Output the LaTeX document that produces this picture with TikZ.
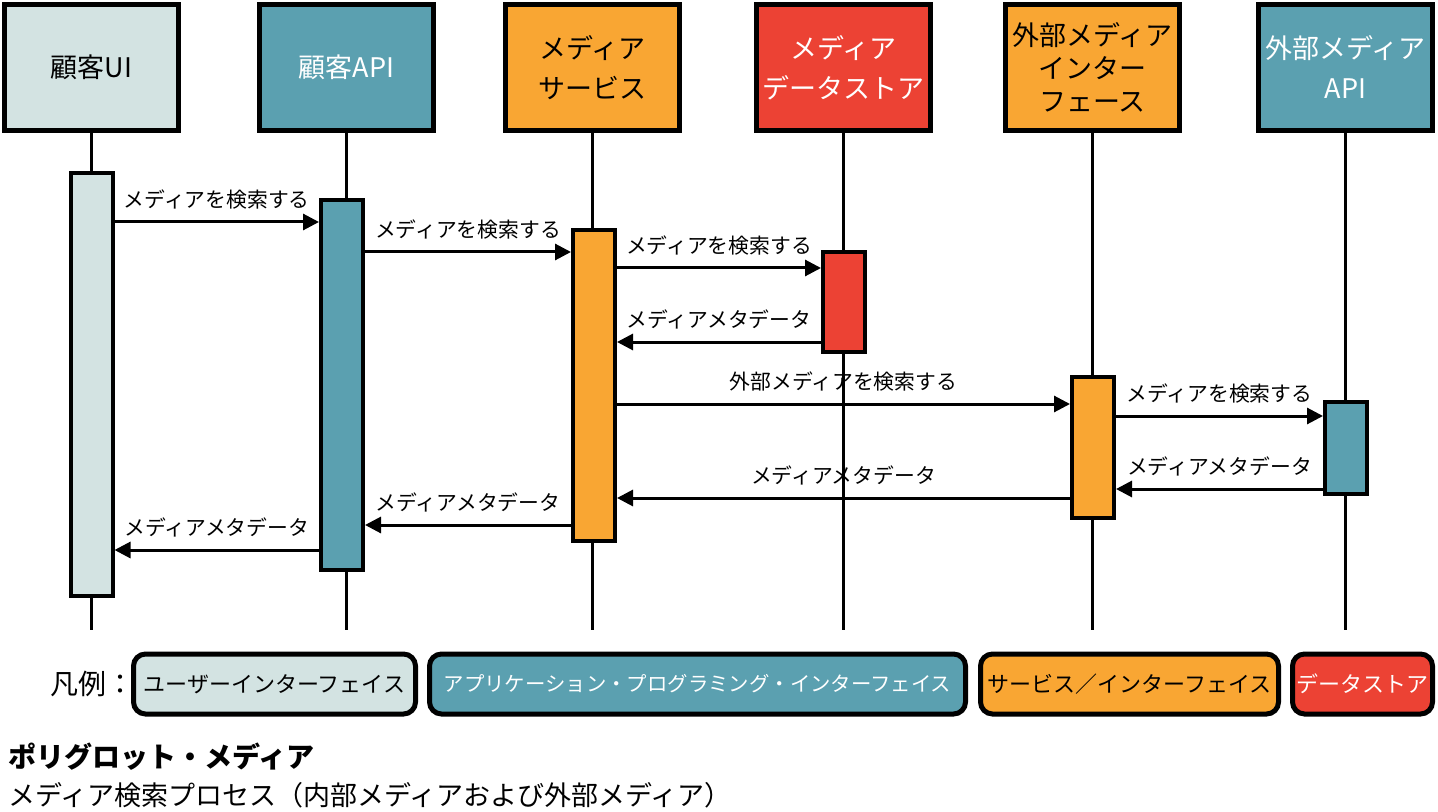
\documentclass[tikz,border=0pt]{standalone}
\usepackage{fontspec}
\setmainfont{Noto Sans CJK JP}
\usetikzlibrary{arrows.meta}
\definecolor{uigray}{RGB}{211,227,226}
\definecolor{apiteal}{RGB}{91,160,176}
\definecolor{svcorange}{RGB}{249,166,51}
\definecolor{storered}{RGB}{236,66,52}

\begin{document}
\begin{tikzpicture}[
    x=0.5pt, y=-0.5pt,
    head/.style={rectangle, draw=black, line width=2.5pt, minimum width=87pt,
                 minimum height=63pt, inner sep=0pt, align=center,
                 font=\fontsize{13.5}{20}\selectfont},
    bar/.style={rectangle, draw=black, line width=2pt, minimum width=21pt, inner sep=0pt},
    life/.style={line width=1.5pt},
    msg/.style={-{Triangle[length=8pt,width=8pt]}, line width=1.5pt},
    lbl/.style={above=2.5pt, font=\fontsize{10.4}{12}\selectfont},
    key/.style={rectangle, rounded corners=6pt, draw=black, line width=2.5pt,
                minimum height=30pt, inner sep=0pt, font=\fontsize{11}{13}\selectfont}
]
\useasboundingbox (0,0) rectangle (1438,812);

% participants
\node[head, fill=uigray] (ui) at (91.5,67.5) {顧客UI};
\node[head, fill=apiteal, text=white] (api) at (346.5,67.5) {顧客API};
\node[head, fill=svcorange] (svc) at (592.5,67.5) {メディア\\サービス};
\node[head, fill=storered, text=white] (store) at (843.5,67.5) {メディア\\データストア};
\node[head, fill=svcorange, font=\fontsize{13.5}{16.5}\selectfont] (extif) at (1092.5,67.5) {外部メディア\\インター\\フェース};
\node[head, fill=apiteal, text=white] (extapi) at (1345.5,67.5) {外部メディア\\API};

% lifelines
\coordinate (foot) at (0,630);
\foreach \p in {ui,api,svc,store,extif,extapi}
  \draw[life] (\p) -- (\p |- foot);

% activation bars
\node[bar, fill=uigray, minimum height=211.5pt] (uibar) at (91.5,384.5) {};
\node[bar, fill=apiteal, minimum height=185pt] (apibar) at (342,385) {};
\node[bar, fill=svcorange, minimum height=155.5pt] (svcbar) at (594,385.5) {};
\node[bar, fill=storered, minimum height=50pt] (storebar) at (844,302) {};
\node[bar, fill=svcorange, minimum height=70.5pt] (extifbar) at (1093,447.5) {};
\node[bar, fill=apiteal, minimum height=46pt] (extapibar) at (1346,448) {};

% message rows
\coordinate (m1) at (0,222);
\coordinate (m2) at (0,252);
\coordinate (m3) at (0,268);
\coordinate (m4) at (0,342);
\coordinate (m5) at (0,404);
\coordinate (m6) at (0,416);
\coordinate (m7) at (0,489);
\coordinate (m8) at (0,498);
\coordinate (m9) at (0,525);
\coordinate (m10) at (0,550);

\draw[msg] (uibar.east |- m1) -- node[lbl]{メディアを検索する} (apibar.west |- m1);
\draw[msg] (apibar.east |- m2) -- node[lbl]{メディアを検索する} (svcbar.west |- m2);
\draw[msg] (svcbar.east |- m3) -- node[lbl]{メディアを検索する} (storebar.west |- m3);
\draw[msg] (storebar.west |- m4) -- node[lbl]{メディアメタデータ} (svcbar.east |- m4);
\draw[msg] (svcbar.east |- m5) -- node[lbl]{外部メディアを検索する} (extifbar.west |- m5);
\draw[msg] (extifbar.east |- m6) -- node[lbl]{メディアを検索する} (extapibar.west |- m6);
\draw[msg] (extapibar.west |- m7) -- node[lbl]{メディアメタデータ} (extifbar.east |- m7);
\draw[msg] (extifbar.west |- m8) -- node[lbl]{メディアメタデータ} (svcbar.east |- m8);
\draw[msg] (svcbar.west |- m9) -- node[lbl]{メディアメタデータ} (apibar.east |- m9);
\draw[msg] (apibar.west |- m10) -- node[lbl]{メディアメタデータ} (uibar.east |- m10);

% legend
\node[anchor=east, inner sep=0pt, font=\fontsize{14}{16}\selectfont] (legend) at (135,684) {凡例：};
\node[key, fill=uigray, minimum width=141pt] (kui) at (274.5,684) {ユーザーインターフェイス};
\node[key, fill=apiteal, text=white, minimum width=268pt, font=\fontsize{10.2}{12}\selectfont] (kapi) at (697.5,684) {アプリケーション・プログラミング・インターフェイス};
\node[key, fill=svcorange, minimum width=149pt] (ksvc) at (1129.5,684) {サービス／インターフェイス};
\node[key, fill=storered, text=white, minimum width=70pt] (kstore) at (1362.5,684) {データストア};

% caption
\node[anchor=west, inner sep=0pt, font=\bfseries\fontsize{14}{16}\selectfont] (title) at (8,757) {ポリグロット・メディア};
\node[anchor=west, inner sep=0pt, font=\fontsize{13.5}{15}\selectfont] (subtitle) at (8,795) {メディア検索プロセス（内部メディアおよび外部メディア）};
\end{tikzpicture}
\end{document}
